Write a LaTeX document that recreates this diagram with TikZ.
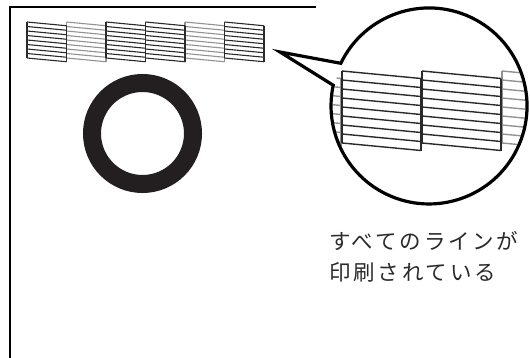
\documentclass[tikz,border=0pt]{standalone}
\usepackage{fontspec}
\newfontfamily\jpfont[LetterSpace=13]{Noto Sans CJK JP}
\definecolor{darkline}{HTML}{2A2A2A}
\definecolor{lightline}{HTML}{929292}
\definecolor{ringcol}{HTML}{231F20}
\definecolor{textcol}{HTML}{2A2A2A}
\tikzset{
  lineblock/.pic={
    \draw (0,0) -- (0,-36);
    \draw (39.5,-3.75) -- (39.5,-39.75);
    \foreach \k in {0,...,8} \draw (0,-4.5*\k) -- (39.5,-3.75-4.5*\k);
  },
  frameline/.style={line width=1.5pt, black},
  bubble/.style={line width=3.2pt, black, line join=miter},
  caption/.style={anchor=base west, inner sep=0pt, text=textcol, font=\jpfont\fontsize{21.5}{31}\selectfont}
}
\begin{document}
\begin{tikzpicture}[x=1pt,y=1pt]
\useasboundingbox (0,0) rectangle (530,357);
\fill[white] (0,0) rectangle (530,357);
% frame
\draw[frameline] (316,350) -- (10,350) -- (10,-1);
% small test pattern
\foreach \i/\c in {1/lightline,4/lightline,0/darkline,2/darkline,3/darkline,5/darkline}
  \pic[color=\c, line width=1.1pt] at ({27+39.5*\i},335) {lineblock};
% ring
\draw[line width=18pt, ringcol] (142.5,223.5) circle[radius=50.5];
% magnified pattern
\begin{scope}
  \clip (429,251) circle[radius=96.4];
  \foreach \xx/\c in {262/lightline,502/lightline,342/darkline,422/darkline}
    \pic[color=\c, line width=1.4pt, scale=2] at (\xx,286) {lineblock};
\end{scope}
% bubble
\draw[bubble] (280,305) -- (340.8,293.7) arc[start angle=154.2, end angle=-192.2, radius=98] -- cycle;
% caption
\node[caption] (t1) at (329,108) {すべてのラインが};
\node[caption] (t2) at (329,77) {印刷されている};
\end{tikzpicture}
\end{document}
